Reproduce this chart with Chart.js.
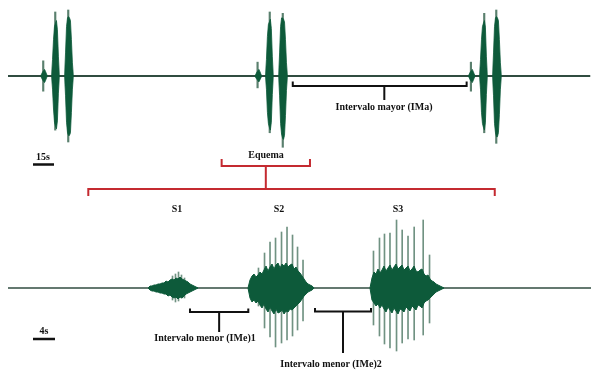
<!DOCTYPE html>
<html><head><meta charset="utf-8">
<script src="https://cdn.jsdelivr.net/npm/chart.js@4.4.1/dist/chart.umd.min.js"></script>
<style>
html,body{margin:0;padding:0;background:#fff;}
#wrap{position:relative;width:604px;height:387px;overflow:hidden;background:#fff;}
canvas{position:absolute;left:0;top:0;}
.lbl{position:absolute;font-family:"Liberation Serif","Times New Roman",serif;font-weight:bold;font-size:10px;color:#111;white-space:nowrap;transform:translate(-50%,-50%);line-height:1;}
</style></head><body>
<div id="wrap">
<canvas id="c" width="604" height="387"></canvas>
<div class="lbl" style="left:384px;top:107px">Intervalo mayor (IMa)</div>
<div class="lbl" style="left:43px;top:157px">15s</div>
<div class="lbl" style="left:266px;top:155px">Equema</div>
<div class="lbl" style="left:177px;top:209px">S1</div>
<div class="lbl" style="left:279px;top:209px">S2</div>
<div class="lbl" style="left:398px;top:209px">S3</div>
<div class="lbl" style="left:205px;top:338px">Intervalo menor (IMe)1</div>
<div class="lbl" style="left:331px;top:364px">Intervalo menor (IMe)2</div>
<div class="lbl" style="left:44px;top:331px">4s</div>
</div>
<script>
// ---------- Top oscillogram: three groups of three pulses (time in s, relative amplitude) ----------
const topOnsets = [24.0, 31.8, 41.1, 177.1, 184.6, 194.0, 329.5, 337.5, 346.8];
const topStep = 0.7;
const topUpper = [
  [0.3,0.6,0.8,1.0,0.7,0.3],
  [2.5,5.5,7.5,8.0,8.4,7.0,3.0],
  [3.5,7.5,8.8,9.0,8.8,8.4,5.5,2.0],
  [0.3,0.6,0.8,1.0,0.7,0.3],
  [2.5,6.0,7.8,8.2,8.6,7.2,3.0],
  [3.5,7.5,8.8,8.8,8.6,8.2,5.5,2.0],
  [0.3,0.6,0.8,1.0,0.7,0.3],
  [2.5,5.5,7.5,8.0,8.4,7.4,3.0],
  [3.5,7.5,8.8,9.0,8.8,8.4,5.5,2.0]
];
const topLower = [
  [0.3,0.6,0.8,1.0,0.7,0.3],
  [2.0,5.0,7.0,7.6,8.0,6.8,2.6],
  [3.0,7.0,8.6,9.0,9.0,8.6,5.5,2.0],
  [0.3,0.5,0.7,0.9,0.6,0.3],
  [2.0,5.5,7.2,7.8,8.2,7.0,2.8],
  [3.0,7.2,8.8,9.4,9.6,9.0,6.0,2.2],
  [0.3,0.6,0.8,1.0,0.7,0.3],
  [2.0,5.5,7.2,7.8,8.2,7.0,2.8],
  [3.0,7.2,8.6,9.2,9.2,8.6,5.8,2.0]
];
const topSpikeTimes = [25.7, 34.29, 43.57, 178.8, 187.5, 196.8, 331.2, 340.7, 349.3];
const topSpikeUp    = [2.3, 9.7, 10.0, 2.1, 9.7, 9.5, 2.1, 9.5, 10.0];
const topSpikeDown  = [2.3, 8.2, 10.0, 1.8, 8.6, 10.8, 2.3, 8.6, 10.2];
const topRecordEnd = 415.9;

// ---------- Bottom oscillogram: one scheme S1, S2, S3 (time in s, relative amplitude) ----------
const botOnsets = [25.82, 44.0, 66.18];
const botStep = 0.364;
const botUpper = [
  [2,2,3,3,4,4,5,5,7,6,8,9,8,10,9,11,9,8,7,6,4,3,2,1],
  [8,12,14,11,13,16,14,18,22,17,21,24,19,23,25,20,24,22,25,21,23,24,19,21,17,15,12,9,6,4,3,2],
  [10,16,14,19,15,18,22,17,20,23,18,21,24,19,21,23,18,20,22,17,19,22,17,16,18,19,14,12,13,9,7,6,4,3,2,1]
];
const botLower = [
  [2,3,3,4,4,5,5,6,6,8,7,9,10,9,11,9,10,8,6,5,4,3,2,1],
  [10,14,12,15,13,17,20,16,21,24,19,23,26,21,25,24,22,26,23,24,21,22,20,18,16,14,11,8,6,4,3,2],
  [12,15,18,16,20,17,21,24,19,22,25,20,23,26,21,22,24,19,21,23,18,20,22,17,18,20,15,13,12,10,8,6,4,3,2,1]
];
const spikeTimes = [29.82,30.36,30.91,31.45,32.0,
  45.45,46.55,47.55,48.55,49.64,50.64,51.64,52.55,53.55,
  66.36,67.45,68.36,69.36,70.55,71.58,72.64,73.76,75.4,76.55];
const spikeUp   = [12,14,16,13,10, 20,35,46,50,56,61,53,41,28, 37,50,54,55,68,58,52,61,68,33];
const spikeDown = [12,14,13,10,10, 18,40,49,59,55,52,48,42,33, 37,48,56,60,63,55,51,52,47,35];
const botRecordEnd = 106.0;

// ---------- Intervals / scale bars (s) ----------
const imaInterval = [203.4, 327.6, 268.8];      // start, end, label stem (top time axis)
const schemeTop = [152.6, 215.7];               // red "Equema" bracket on top axis
const schemeBot = [14.6, 88.5];                 // red bracket on bottom axis
const ime1 = [33.09, 43.69];
const ime2 = [55.82, 66.0];
const scaleTop = [17.86, 15];                   // start, length (s)
const scaleBot = [4.545, 4];

// ---------- layout constants (not data) ----------
const W = 604, H = 387;
const topCenterPx = 76, topPxPerUnit = 6.6, topPx0 = 8, topPxPerSec = 1.4;
const botCenterPx = 288, botPxPerUnit = 1, botPx0 = 8, botPxPerSec = 5.5;

function envelope(onsets, step, amps, sign){
  const pts = [];
  onsets.forEach((t0, i) => {
    const a = amps[i];
    pts.push({x: t0 - step, y: 0});
    a.forEach((v, k) => pts.push({x: t0 + k*step, y: sign*v}));
    pts.push({x: t0 + a.length*step, y: 0});
  });
  return pts;
}
const GREEN = 'rgb(13,90,58)';
const BASE = 'rgb(48,76,64)';
const SPIKE = 'rgb(112,146,130)';
const TOPSPIKE = 'rgb(90,128,110)';
const RED = 'rgb(196,42,48)';
const segHide = {borderColor: c => (c.p0.parsed.y === 0 && c.p1.parsed.y === 0) ? 'rgba(0,0,0,0)' : GREEN};

const annot = {
  id: 'annot',
  afterDatasetsDraw(chart){
    const {ctx} = chart;
    const {xTop, xBot} = chart.scales;
    ctx.save();
    ctx.lineCap = 'butt';
    function bracket(x1, x2, xs, y, yEnd, yStem, color, w){
      ctx.strokeStyle = color; ctx.lineWidth = w;
      ctx.beginPath();
      ctx.moveTo(x1, yEnd); ctx.lineTo(x1, y); ctx.lineTo(x2, y); ctx.lineTo(x2, yEnd);
      ctx.moveTo(xs, y); ctx.lineTo(xs, yStem);
      ctx.stroke();
    }
    bracket(xTop.getPixelForValue(imaInterval[0]), xTop.getPixelForValue(imaInterval[1]),
            xTop.getPixelForValue(imaInterval[2]), 86, 81.5, 100, '#111', 2);
    const e1 = xTop.getPixelForValue(schemeTop[0]), e2 = xTop.getPixelForValue(schemeTop[1]);
    bracket(e1, e2, (e1+e2)/2, 166, 159, 189, RED, 2);
    const b1 = xBot.getPixelForValue(schemeBot[0]), b2 = xBot.getPixelForValue(schemeBot[1]);
    bracket(b1, b2, (b1+b2)/2, 189, 196, 189, RED, 2);
    const i1a = xBot.getPixelForValue(ime1[0]), i1b = xBot.getPixelForValue(ime1[1]);
    bracket(i1a, i1b, (i1a+i1b)/2, 312, 308.5, 332, '#111', 2);
    const i2a = xBot.getPixelForValue(ime2[0]), i2b = xBot.getPixelForValue(ime2[1]);
    bracket(i2a, i2b, (i2a+i2b)/2, 311.5, 308, 353, '#111', 2);
    ctx.strokeStyle = '#111'; ctx.lineWidth = 2.5;
    ctx.beginPath();
    ctx.moveTo(xTop.getPixelForValue(scaleTop[0]), 164.5);
    ctx.lineTo(xTop.getPixelForValue(scaleTop[0] + scaleTop[1]), 164.5);
    ctx.moveTo(xBot.getPixelForValue(scaleBot[0]), 339);
    ctx.lineTo(xBot.getPixelForValue(scaleBot[0] + scaleBot[1]), 339);
    ctx.stroke();
    ctx.restore();
  }
};

new Chart(document.getElementById('c'), {
  type: 'line',
  data: {
    datasets: [
      {label:'top upper', data: envelope(topOnsets, topStep, topUpper, 1), xAxisID:'xTop', yAxisID:'yTop',
       borderColor: GREEN, borderWidth: 0.8, backgroundColor: GREEN, fill: '+1', pointRadius: 0, tension: 0, segment: segHide, order: 1},
      {label:'top lower', data: envelope(topOnsets, topStep, topLower, -1), xAxisID:'xTop', yAxisID:'yTop',
       borderColor: GREEN, borderWidth: 0.8, fill: false, pointRadius: 0, tension: 0, segment: segHide, order: 1},
      {label:'top baseline', data: [{x:0,y:0},{x:topRecordEnd,y:0}], xAxisID:'xTop', yAxisID:'yTop',
       borderColor: BASE, borderWidth: 2, fill: false, pointRadius: 0, order: 5},
      {type:'bar', label:'top pulse tips', data: topSpikeTimes.map((t,i)=>({x:t, y:[-topSpikeDown[i], topSpikeUp[i]]})),
       xAxisID:'xTop', yAxisID:'yTop', backgroundColor: TOPSPIKE, barThickness: 1.5, order: 8},
      {label:'bot upper', data: envelope(botOnsets, botStep, botUpper, 1), xAxisID:'xBot', yAxisID:'yBot',
       borderColor: GREEN, borderWidth: 1, backgroundColor: GREEN, fill: '+1', pointRadius: 0, tension: 0, segment: segHide, order: 1},
      {label:'bot lower', data: envelope(botOnsets, botStep, botLower, -1), xAxisID:'xBot', yAxisID:'yBot',
       borderColor: GREEN, borderWidth: 1, fill: false, pointRadius: 0, tension: 0, segment: segHide, order: 1},
      {label:'bot baseline', data: [{x:0,y:0},{x:botRecordEnd,y:0}], xAxisID:'xBot', yAxisID:'yBot',
       borderColor: BASE, borderWidth: 1.5, fill: false, pointRadius: 0, order: 5},
      {type:'bar', label:'pulses', data: spikeTimes.map((t,i)=>({x:t, y:[-spikeDown[i], spikeUp[i]]})),
       xAxisID:'xBot', yAxisID:'yBot', backgroundColor: SPIKE, barThickness: 1, order: 8}
    ]
  },
  options: {
    responsive: false, animation: false, devicePixelRatio: 1,
    layout: {padding: 0},
    plugins: {legend:{display:false}, tooltip:{enabled:false}},
    scales: {
      xTop: {type:'linear', display:false, offset:false, min: -topPx0/topPxPerSec, max: (W-topPx0)/topPxPerSec},
      yTop: {type:'linear', display:false, min: -(H-topCenterPx)/topPxPerUnit, max: topCenterPx/topPxPerUnit},
      xBot: {type:'linear', display:false, offset:false, min: -botPx0/botPxPerSec, max: (W-botPx0)/botPxPerSec},
      yBot: {type:'linear', display:false, min: -(H-botCenterPx)/botPxPerUnit, max: botCenterPx/botPxPerUnit}
    }
  },
  plugins: [annot]
});
</script>
</body></html>
